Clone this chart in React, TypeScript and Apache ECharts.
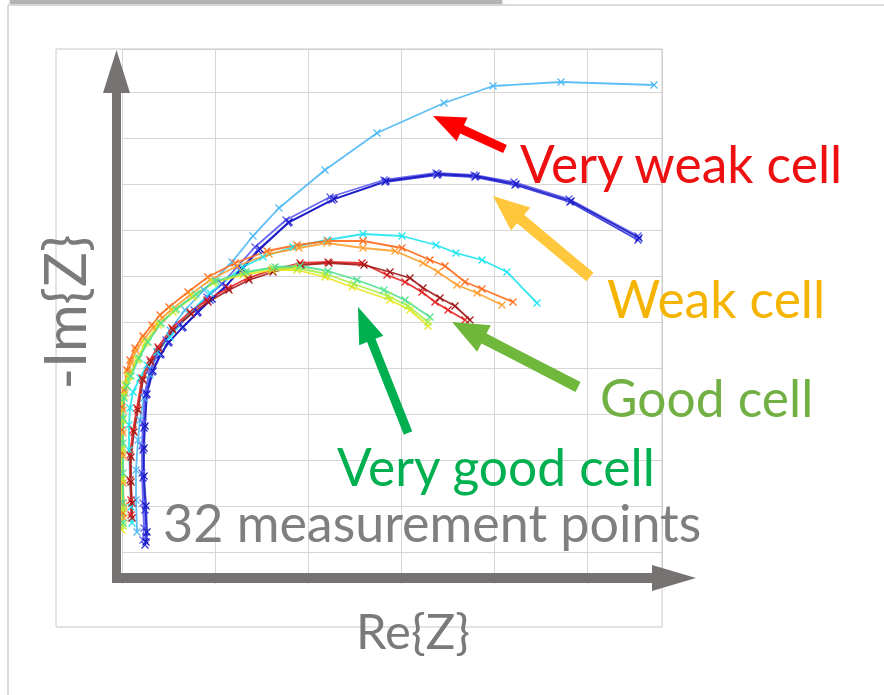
import React, { useEffect, useRef } from "react";
import * as echarts from "echarts";

// Axis units: arbitrary impedance units (Re{Z}, -Im{Z})
const xTickStep = 93;
const yTickStep = 46;
const xMax = 540;
const yMax = 549;

const seriesNames = [
  "lightBlue", "blueA", "blueB", "blueC", "cyan", "orange", "lightOrange",
  "red", "darkRed", "yellow", "lime", "green",
];

const lightBlue = [[15,66],[14,98],[14,128],[16,158],[18,178],[22,200],[28,223],[36,246],[48,268],[63,288],[82,308],[110,336],[131,362],[157,390],[203,428],[255,465],[322,495],[371,512],[439,516],[532,513]];
const blueA = [[23,53],[24,61],[23,88],[21,120],[21,148],[22,170],[24,203],[30,226],[38,243],[46,255],[60,270],[75,285],[88,298],[103,311],[118,328],[136,348],[166,375],[210,398],[263,416],[315,423],[353,421],[393,413],[448,396],[516,358]];
const blueB = [[21,58],[22,70],[21,95],[20,125],[20,152],[21,175],[23,206],[28,228],[36,246],[44,258],[57,273],[72,288],[85,301],[100,314],[115,331],[133,351],[164,378],[208,401],[262,418],[314,425],[352,423],[392,416],[447,399],[516,362]];
const blueC = [[24,56],[25,66],[24,92],[22,122],[22,150],[23,172],[25,204],[31,227],[39,244],[47,256],[61,271],[76,286],[90,299],[104,312],[120,329],[138,349],[167,376],[212,399],[264,417],[316,424],[354,422],[394,414],[449,397],[517,360]];
const cyan = [[10,75],[9,91],[8,118],[7,148],[7,173],[8,190],[11,206],[18,220],[25,233],[35,246],[48,261],[68,285],[88,305],[121,331],[141,341],[171,351],[205,358],[241,364],[280,362],[314,353],[334,345],[360,338],[385,326],[415,295]];
const orange = [[1,85],[1,95],[0,118],[0,145],[0,168],[0,191],[2,208],[5,228],[8,238],[13,250],[21,262],[30,273],[38,283],[47,291],[66,306],[86,321],[113,335],[145,347],[175,353],[206,357],[241,357],[280,350],[308,338],[323,332],[343,316],[360,309],[391,296]];
const lightOrange = [[2,80],[2,92],[1,115],[1,142],[1,165],[1,188],[3,205],[6,225],[9,235],[14,247],[22,259],[31,270],[40,280],[49,288],[68,303],[88,318],[115,332],[147,344],[177,350],[205,355],[241,350],[273,347],[301,335],[316,326],[335,313],[355,305],[380,293]];
const red = [[9,83],[9,98],[8,118],[8,143],[11,168],[15,190],[20,220],[28,238],[36,251],[50,270],[68,286],[85,298],[106,310],[126,320],[150,328],[178,335],[206,336],[240,335],[265,323],[283,316],[300,306],[313,296],[326,288],[343,278]];
const darkRed = [[10,80],[10,95],[9,116],[9,141],[12,166],[16,188],[21,218],[29,236],[37,249],[51,268],[69,284],[86,296],[107,308],[127,318],[151,326],[179,333],[207,335],[242,333],[268,326],[288,320],[301,310],[318,300],[333,292],[348,278]];
const yellow = [[0,68],[0,88],[0,118],[0,148],[0,178],[0,203],[3,213],[6,221],[15,238],[23,255],[36,273],[51,286],[71,301],[91,315],[121,323],[150,328],[175,328],[203,321],[230,311],[268,298],[288,288],[306,272]];
const lime = [[1,72],[1,90],[0,120],[0,150],[1,178],[2,202],[4,213],[7,222],[16,239],[25,256],[38,274],[53,288],[72,302],[92,316],[122,325],[151,330],[176,330],[204,324],[232,314],[266,302],[286,292],[306,276]];
const green = [[1,75],[1,95],[1,125],[1,155],[1,180],[2,200],[5,212],[9,222],[17,240],[26,256],[39,275],[54,289],[74,304],[94,317],[124,326],[153,331],[178,332],[206,327],[235,318],[262,308],[283,298],[308,281]];

const seriesData = [lightBlue, blueA, blueB, blueC, cyan, orange, lightOrange, red, darkRed, yellow, lime, green];
const seriesColors = ["#4db8f5", "#2f2fe0", "#5a5af0", "#1818c0", "#1ee4f0", "#ff6a1a", "#ffa030", "#e82020", "#a01818", "#e6e620", "#a8ee40", "#50e090"];

const annotations = ["Very weak cell", "Weak cell", "Good cell", "Very good cell", "32 measurement points"];

const FONT = 'Lato, "Open Sans", sans-serif';
const AXIS_GRAY = "#767272";

function arrowPoints(tip: number[], tail: number[], sw: number, hl: number, hw: number) {
  const dx = tip[0] - tail[0];
  const dy = tip[1] - tail[1];
  const len = Math.hypot(dx, dy);
  const ux = dx / len, uy = dy / len;
  const nx = -uy, ny = ux;
  const bx = tip[0] - ux * hl, by = tip[1] - uy * hl;
  return [
    [tail[0] + nx * sw / 2, tail[1] + ny * sw / 2],
    [bx + nx * sw / 2, by + ny * sw / 2],
    [bx + nx * hw / 2, by + ny * hw / 2],
    [tip[0], tip[1]],
    [bx - nx * hw / 2, by - ny * hw / 2],
    [bx - nx * sw / 2, by - ny * sw / 2],
    [tail[0] - nx * sw / 2, tail[1] - ny * sw / 2],
  ];
}

export default function App() {
  const ref = useRef<HTMLDivElement>(null);
  useEffect(() => {
    if (!ref.current) return;
    const chart = echarts.init(ref.current, null, { renderer: "svg" });
    const cross = "path://M0,0L10,10M10,0L0,10";
    const series = seriesData.map((d, i) => ({
      name: seriesNames[i],
      type: "line",
      data: d,
      symbol: cross,
      symbolSize: 7,
      showSymbol: true,
      lineStyle: { width: 1.8, color: seriesColors[i], opacity: 0.9 },
      itemStyle: { color: seriesColors[i], borderColor: seriesColors[i], borderWidth: 1.2 },
      z: 3,
    }));

    const textStyle = (t: string, x: number, y: number, size: number, fill: string, extra: any = {}) => ({
      type: "text",
      x, y, z: 100,
      ...extra,
      style: { text: t, fontFamily: FONT, fontSize: size, lineHeight: Math.round(size * 1.0), fill, textAlign: extra.align || "left", textVerticalAlign: "middle", verticalAlign: "middle", align: extra.align || "left" },
    });

    const graphic: any[] = [
      // page decorations
      { type: "rect", z: 1, shape: { x: 10, y: 0, width: 492, height: 4 }, style: { fill: "#b4b4b4", shadowBlur: 3, shadowColor: "rgba(0,0,0,0.3)" } },
      { type: "line", z: 1, shape: { x1: 8, y1: 5, x2: 884, y2: 5 }, style: { stroke: "#cfcfcf", lineWidth: 1.5 } },
      { type: "line", z: 1, shape: { x1: 8, y1: 5, x2: 8, y2: 695 }, style: { stroke: "#cfcfcf", lineWidth: 1.5 } },
      // hide grid below the drawn axis
      { type: "rect", z: 1, shape: { x: 122, y: 584, width: 542, height: 16 }, style: { fill: "#ffffff" } },
      // inner frame
      { type: "rect", z: 2, shape: { x: 56, y: 49, width: 606, height: 578 }, style: { fill: "none", stroke: "#c8c8c8", lineWidth: 1 } },
      // axes arrows
      { type: "rect", z: 50, shape: { x: 112, y: 90, width: 9, height: 493 }, style: { fill: AXIS_GRAY } },
      { type: "polygon", z: 50, shape: { points: [[116.5, 50], [130, 93], [103, 93]] }, style: { fill: AXIS_GRAY } },
      { type: "rect", z: 50, shape: { x: 112, y: 573, width: 542, height: 10 }, style: { fill: AXIS_GRAY } },
      { type: "polygon", z: 50, shape: { points: [[696, 578], [652, 565], [652, 591]] }, style: { fill: AXIS_GRAY } },
      // annotation arrows
      { type: "polygon", z: 60, shape: { points: arrowPoints([433, 116], [505, 149], 9, 32, 26) }, style: { fill: "#ff0000" } },
      { type: "polygon", z: 60, shape: { points: arrowPoints([493, 196], [590, 277], 11, 36, 30) }, style: { fill: "#ffc83c" } },
      { type: "polygon", z: 60, shape: { points: arrowPoints([358, 307], [408, 433], 9, 36, 26) }, style: { fill: "#00b050" } },
      { type: "polygon", z: 60, shape: { points: arrowPoints([452, 322], [578, 387], 11, 36, 30) }, style: { fill: "#70b83c" } },
      // texts
      textStyle(annotations[0], 520, 163, 51.5, "#ee1010"),
      textStyle(annotations[1], 607, 298, 51.5, "#f5b400"),
      textStyle(annotations[2], 600, 397, 51.5, "#72b043"),
      textStyle(annotations[3], 337, 466, 51.5, "#00b050"),
      textStyle(annotations[4], 163, 522, 52, "#7f7f7f"),
      textStyle("Re{Z}", 413, 630, 49, "#7a7a7a", { align: "center" }),
      textStyle("-Im{Z}", 63, 312, 58, "#7a7a7a", { align: "center", rotation: Math.PI / 2 }),
    ];

    chart.setOption({
      animation: false,
      backgroundColor: "#ffffff",
      grid: { left: 122, top: 49, width: 540, height: 549, containLabel: false },
      xAxis: {
        type: "value", min: 0, max: xMax, interval: xTickStep,
        axisLine: { show: false }, axisTick: { show: false }, axisLabel: { show: false },
        splitLine: { show: true, lineStyle: { color: "#d6d6d6", width: 1 } },
      },
      yAxis: {
        type: "value", min: 0, max: yMax, interval: yTickStep,
        axisLine: { show: false }, axisTick: { show: false }, axisLabel: { show: false },
        splitLine: { show: true, lineStyle: { color: "#d6d6d6", width: 1 } },
      },
      series,
      graphic,
    });
    return () => chart.dispose();
  }, []);
  return <div ref={ref} style={{ position: "fixed", left: 0, top: 0, width: 884, height: 695, background: "#fff" }} />;
}
